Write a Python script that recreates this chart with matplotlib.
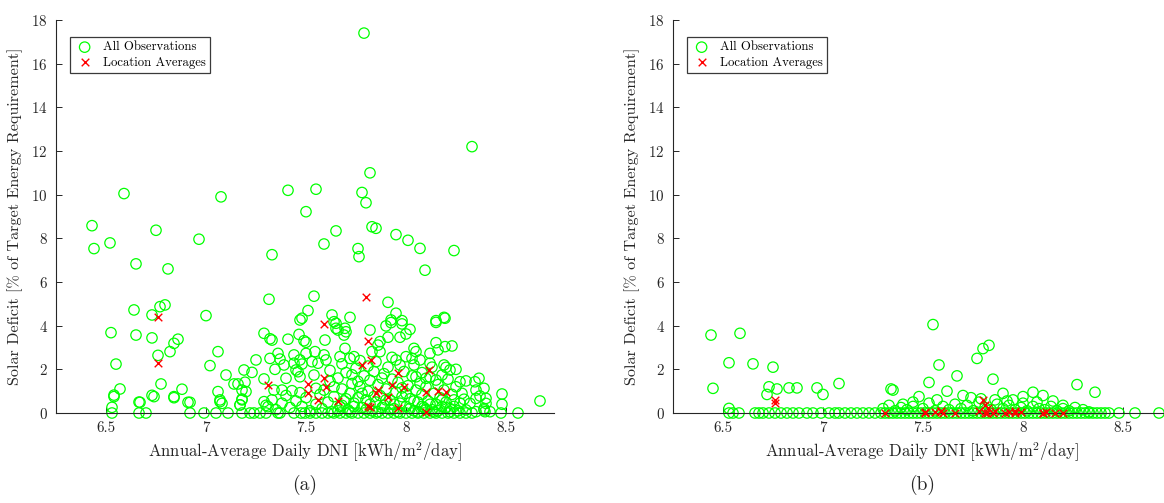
import numpy as np
import matplotlib
matplotlib.use("Agg")
import matplotlib.pyplot as plt

plt.rcParams.update({
    "font.family": "serif",
    "font.serif": ["cmr10"],
    "mathtext.fontset": "cm",
    "axes.unicode_minus": False,
    "axes.formatter.use_mathtext": True,
})

# ---------------- (a) all observations with non-zero deficit ----------------
dni_a = [
    7.79, 8.33, 7.82, 6.59, 7.075, 7.41, 7.55, 7.78, 7.80, 7.50,
    6.43, 6.75, 6.965, 7.65, 6.52, 6.44, 7.59, 7.33, 6.65, 6.81,
    7.83, 7.85, 7.95, 8.01, 8.07, 8.24, 7.76, 7.765, 8.095, 7.315,
    7.54, 7.91, 7.95, 6.64, 6.77, 6.795, 6.73, 7.0, 7.51, 7.48,
    7.47, 7.63, 7.72, 8.19, 8.15, 7.925, 7.98, 6.525, 6.65, 6.73,
    6.84, 6.86, 6.82, 6.76, 6.55, 7.06, 7.02, 7.10, 6.775, 6.57,
    6.54, 6.73, 6.84, 6.88, 6.665, 6.53, 6.91, 7.06, 7.07, 7.08,
    7.14, 7.16, 7.19, 7.23, 7.195, 7.18, 7.20, 7.18, 7.17, 7.25,
    7.29, 7.32, 7.33, 7.29, 7.34, 7.32, 7.36, 7.37, 7.345, 7.41,
    7.465, 7.50, 7.49, 7.595, 7.44, 7.47, 7.50, 7.545, 7.59, 7.39,
    7.44, 7.48, 7.53, 7.45, 7.46, 7.56, 7.60, 7.40, 7.47, 7.54,
    7.38, 7.43, 7.47, 7.55, 7.59, 7.64, 7.64, 7.65, 7.65, 7.695,
    7.66, 7.70, 7.69, 7.82, 7.90, 7.925, 7.98, 8.02, 8.00, 7.91,
    7.97, 8.15, 8.195, 7.87, 7.86, 7.695, 7.83, 7.87, 8.15, 8.195,
    8.23, 8.04, 8.05, 8.12, 8.16, 7.67, 7.72, 7.74, 7.95, 8.00,
    8.03, 8.07, 7.97, 8.04, 8.12, 8.19, 8.20, 8.22, 8.25, 8.18,
    8.15, 8.10, 8.05, 8.27, 8.30, 8.365, 8.39, 8.37, 8.35, 8.345,
    8.48, 8.67, 8.29, 8.32, 8.40, 8.30, 8.35, 8.39, 8.42, 8.48,
    8.35, 8.40, 8.39, 8.395, 6.54, 6.67, 6.74, 6.84, 6.92, 7.07,
    7.18, 7.17, 7.29, 7.31,
    7.30, 7.33, 7.35, 7.38, 7.40, 7.42, 7.45, 7.48, 7.50, 7.52,
    7.55, 7.57, 7.58, 7.61, 7.62, 7.63, 7.64, 7.66, 7.67, 7.68,
    7.69, 7.70, 7.71, 7.72, 7.73, 7.74, 7.75, 7.76, 7.77, 7.78,
    7.79, 7.80, 7.81, 7.82, 7.83, 7.84, 7.85, 7.86, 7.87, 7.88,
    7.89, 7.90, 7.91, 7.92, 7.93, 7.94, 7.95, 7.96, 7.97, 7.98,
    7.99, 8.00, 8.01, 8.02, 8.03, 8.04, 8.05, 8.06, 8.07, 8.08,
    8.09, 8.10, 8.11, 8.12, 8.13, 8.14, 8.15, 8.16, 8.17, 8.18,
    8.19, 8.20, 8.21, 8.22, 8.23, 8.24, 8.25, 8.26, 8.27, 8.28,
    7.66, 7.68, 7.70, 7.72, 7.74, 7.76, 7.78, 7.80, 7.82, 7.84,
    7.86, 7.88, 7.90, 7.92, 7.94, 7.96, 7.98, 8.00, 8.02, 8.04,
    8.06, 8.08, 8.10, 8.12, 8.14, 8.16, 8.18, 8.20, 8.22, 8.24,
    7.62, 7.68, 7.73, 7.77, 7.81, 7.85, 7.89, 7.93, 8.08, 8.13,
]
deficit_a = [
    17.4, 12.2, 11.0, 10.05, 9.9, 10.2, 10.25, 10.1, 9.63, 9.22,
    8.58, 8.37, 7.96, 8.34, 7.79, 7.53, 7.74, 7.25, 6.83, 6.6,
    8.53, 8.46, 8.17, 7.91, 7.54, 7.44, 7.53, 7.16, 6.54, 5.21,
    5.35, 5.07, 4.57, 4.72, 4.87, 4.95, 4.49, 4.46, 4.69, 4.34,
    4.26, 4.49, 4.38, 4.38, 4.23, 4.26, 4.23, 3.68, 3.57, 3.44,
    3.19, 3.38, 2.81, 2.64, 2.24, 2.81, 2.17, 1.74, 1.33, 1.1,
    0.82, 0.81, 0.75, 1.09, 0.5, 0.26, 0.49, 0.98, 0.6, 0.44,
    1.33, 1.33, 1.97, 1.86, 1.41, 1.05, 0.98, 0.6, 0.37, 2.43,
    3.65, 3.40, 3.34, 1.56, 1.05, 2.5, 2.73, 2.47, 2.0, 3.38,
    3.6, 3.24, 3.31, 3.34, 2.66, 2.43, 2.73, 2.81, 2.66, 2.2,
    2.28, 2.24, 2.35, 1.97, 1.89, 2.28, 2.43, 1.59, 1.66, 1.74,
    1.05, 1.02, 0.93, 1.13, 1.05, 1.2, 4.18, 3.88, 4.11, 3.88,
    3.8, 3.72, 3.57, 3.8, 3.99, 4.14, 4.08, 3.83, 3.62, 3.47,
    3.47, 4.15, 4.34, 3.27, 3.11, 2.96, 2.81, 2.81, 3.22, 3.04,
    3.07, 2.96, 2.81, 2.73, 2.89, 2.58, 2.5, 2.58, 2.43, 2.58,
    2.5, 2.43, 2.2, 2.2, 2.28, 2.2, 2.09, 1.97, 2.0, 1.74,
    1.51, 1.59, 1.66, 1.43, 1.47, 1.59, 1.13, 0.78, 1.05, 1.43,
    0.87, 0.55, 0.63, 0.44, 0.44, 0.14, 0.06, 0.14, 0.06, 0.4,
    0.67, 0.67, 0.2, 0.06, 0.75, 0.49, 0.75, 0.7, 0.49, 0.52,
    0.64, 0.37, 0.52, 0.29,
    0.35, 0.6, 0.15, 0.45, 0.8, 0.25, 0.55, 0.3, 0.7, 0.1,
    0.4, 0.85, 0.2, 0.5, 1.45, 0.05, 0.75, 1.6, 0.3, 1.1,
    0.55, 1.85, 0.15, 0.9, 1.35, 0.45, 2.05, 0.7, 1.2, 0.25,
    1.7, 0.6, 1.0, 1.5, 0.1, 1.9, 0.5, 1.3, 0.8, 1.6,
    0.35, 1.1, 2.1, 0.6, 1.55, 0.2, 0.95, 1.4, 0.45, 0.75,
    1.9, 0.3, 1.25, 0.65, 1.7, 0.1, 1.05, 0.5, 1.35, 0.85,
    0.25, 1.2, 0.55, 1.65, 0.15, 0.9, 0.4, 1.3, 0.7, 0.3,
    1.05, 0.5, 1.55, 0.2, 0.85, 0.6, 1.2, 0.1, 0.45, 0.9,
    0.1, 0.35, 0.65, 0.05, 0.3, 1.45, 0.9, 0.15, 0.4, 0.75,
    0.05, 0.25, 0.6, 0.15, 0.4, 0.05, 1.15, 0.9, 0.2, 0.55,
    0.05, 0.3, 0.15, 0.4, 0.05, 0.1, 0.6, 0.25, 0.05, 0.3,
    1.95, 2.25, 1.75, 2.4, 2.15, 2.35, 1.8, 2.55, 1.85, 2.1,
]
# (a) observations whose deficit is zero
dni_a_zero = [
    6.53, 6.665, 6.70, 6.92, 6.99, 7.05, 7.11, 7.18, 7.22, 7.24,
    7.27, 7.30, 7.36, 7.37, 7.44, 7.475, 7.495, 7.52, 7.55, 7.58,
    7.61, 7.64, 7.67, 7.70, 7.73, 7.76, 7.79, 7.82, 7.85, 7.88,
    7.91, 7.94, 7.97, 8.00, 8.03, 8.06, 8.09, 8.12, 8.15, 8.18,
    8.21, 8.24, 8.27, 8.30, 8.33, 8.475, 8.56,
]

# ---------------- (b) all observations with non-zero deficit ----------------
dni_b = [
    6.44, 6.45, 6.53, 6.585, 6.53, 6.65, 6.75, 6.73, 6.77, 6.83,
    6.87, 6.72, 6.97, 7.00, 7.08, 7.34, 7.35, 7.55, 7.58, 7.53,
    7.67, 7.77, 7.80, 7.83, 7.85, 7.45, 7.48, 7.62, 7.70, 7.90,
    8.05, 8.10, 8.27, 8.36, 7.95, 8.00, 8.15, 8.20, 7.40, 7.57,
    7.30, 7.33, 7.36, 7.39, 7.42, 7.45, 7.50, 7.53, 7.56, 7.60,
    7.63, 7.66, 7.69, 7.72, 7.75, 7.78, 7.81, 7.84, 7.87, 7.90,
    7.93, 7.96, 7.99, 8.02, 8.05, 8.08, 8.11, 8.14, 8.17, 8.20,
    8.23, 8.26, 8.30, 8.33, 7.74, 7.79, 7.86, 7.92, 8.00, 8.07,
]
deficit_b = [
    3.57, 1.13, 2.3, 3.65, 0.21, 2.25, 2.1, 1.2, 1.1, 1.15,
    1.15, 0.85, 1.15, 0.85, 1.35, 1.1, 1.05, 4.05, 2.2, 1.4,
    1.7, 2.5, 2.95, 3.1, 1.55, 0.5, 0.75, 1.0, 0.8, 0.9,
    0.95, 0.8, 1.3, 0.95, 0.6, 0.45, 0.55, 0.35, 0.4, 0.6,
    0.2, 0.35, 0.1, 0.25, 0.15, 0.3, 0.2, 0.45, 0.1, 0.3,
    0.15, 0.4, 0.2, 0.35, 0.1, 0.5, 0.25, 0.15, 0.4, 0.2,
    0.35, 0.15, 0.25, 0.1, 0.3, 0.2, 0.15, 0.3, 0.1, 0.2,
    0.1, 0.25, 0.15, 0.05, 0.7, 0.65, 0.6, 0.55, 0.75, 0.5,
]
# (b) observations whose deficit is zero
dni_b_zero = [
    6.53, 6.55, 6.58, 6.66, 6.68, 6.70, 6.73, 6.76, 6.79, 6.82,
    6.85, 6.88, 6.92, 6.95, 6.99, 7.03, 7.06, 7.08, 7.11, 7.14,
    7.17, 7.20, 7.23, 7.26, 7.29, 7.31, 7.33, 7.35, 7.37, 7.39,
    7.41, 7.43, 7.45, 7.47, 7.49, 7.51, 7.53, 7.55, 7.57, 7.59,
    7.61, 7.63, 7.65, 7.67, 7.69, 7.71, 7.73, 7.75, 7.77, 7.79,
    7.81, 7.83, 7.85, 7.87, 7.89, 7.91, 7.93, 7.95, 7.97, 7.99,
    8.01, 8.03, 8.05, 8.07, 8.09, 8.11, 8.13, 8.15, 8.17, 8.19,
    8.21, 8.23, 8.25, 8.27, 8.29, 8.31, 8.33, 8.35, 8.37, 8.39,
    8.41, 8.43, 8.48, 8.56, 8.68,
]

# ---------------- location averages ----------------
dni_avg = [
    6.76, 6.76, 7.31, 7.51, 7.51, 7.56, 7.59, 7.60, 7.59, 7.66,
    7.78, 7.80, 7.81, 7.825, 7.81, 7.82, 7.86, 7.85, 7.91, 7.93,
    7.96, 7.96, 7.99, 8.10, 8.115, 8.16, 8.20, 8.10,
]
deficit_avg_a = [
    4.38, 2.28, 1.28, 1.33, 0.93, 0.6, 1.62, 1.18, 4.08, 0.56,
    2.2, 5.3, 3.31, 2.43, 0.32, 0.26, 1.05, 0.9, 0.72, 1.28,
    1.82, 0.24, 1.18, 0.98, 1.97, 1.02, 0.95, 0.06,
]
deficit_avg_b = [
    0.6, 0.48, 0.0, 0.05, 0.0, 0.05, 0.1, 0.0, 0.08, 0.0,
    0.1, 0.58, 0.38, 0.25, 0.0, 0.0, 0.1, 0.0, 0.0, 0.05,
    0.1, 0.0, 0.05, 0.0, 0.05, 0.0, 0.0, 0.0,
]

x_ticks = [6.5, 7, 7.5, 8, 8.5]
x_tick_labels = ["6.5", "7", "7.5", "8", "8.5"]
y_ticks = list(range(0, 19, 2))

GREEN = (0.0, 1.0, 0.0)
RED = (1.0, 0.0, 0.0)
AXIS_COLOR = "#262626"

fig = plt.figure(figsize=(11.64, 5.03), dpi=100)
ax_w = 498 / 1164
ax_h = 393 / 503
ax_b = 90 / 503
ax_a = fig.add_axes([56 / 1164, ax_b, ax_w, ax_h])
ax_bb = fig.add_axes([673 / 1164, ax_b, ax_w, ax_h])


def draw_panel(ax, dni, deficit, dni_zero, avg_y, tag, tag_x):
    xs = list(dni) + list(dni_zero)
    ys = list(deficit) + [0.0] * len(dni_zero)
    ax.scatter(xs, ys, s=56, marker="o", facecolors="none",
               edgecolors=GREEN, linewidths=0.9, label="All Observations",
               clip_on=False, zorder=2)
    ax.scatter(dni_avg, avg_y, s=30, marker="x", color=RED,
               linewidths=1.0, label="Location Averages", zorder=3,
               clip_on=False)
    ax.set_xlim(6.25, 8.74)
    ax.set_ylim(0, 18)
    ax.set_xticks(x_ticks)
    ax.set_xticklabels(x_tick_labels)
    ax.set_yticks(y_ticks)
    for side in ("top", "right"):
        ax.spines[side].set_visible(False)
    for side in ("left", "bottom"):
        ax.spines[side].set_color(AXIS_COLOR)
        ax.spines[side].set_linewidth(0.8)
    ax.tick_params(direction="in", length=4, width=0.7, colors=AXIS_COLOR,
                   labelsize=10.8, pad=6)
    ax.set_xlabel(r"Annual-Average Daily DNI [kWh/m$^2$/day]",
                  fontsize=12, color=AXIS_COLOR, labelpad=4)
    ax.set_ylabel("Solar Deficit [% of Target Energy Requirement]",
                  fontsize=11.6, color=AXIS_COLOR, labelpad=6)
    leg = ax.legend(loc="upper left", bbox_to_anchor=(0.028, 0.957),
                    borderaxespad=0, fancybox=False, framealpha=1,
                    edgecolor="#3a3a3a", fontsize=9.2, handletextpad=0.6,
                    borderpad=0.35, labelspacing=0.25, handlelength=1.6,
                    scatterpoints=1)
    leg.get_frame().set_linewidth(0.9)
    fig.text(tag_x, 1 - 485 / 503, tag, ha="center", va="center",
             fontsize=14, color=AXIS_COLOR)


draw_panel(ax_a, dni_a, deficit_a, dni_a_zero, deficit_avg_a, "(a)", 305 / 1164)
draw_panel(ax_bb, dni_b, deficit_b, dni_b_zero, deficit_avg_b, "(b)", 922 / 1164)

fig.savefig("out.png", dpi=100)
